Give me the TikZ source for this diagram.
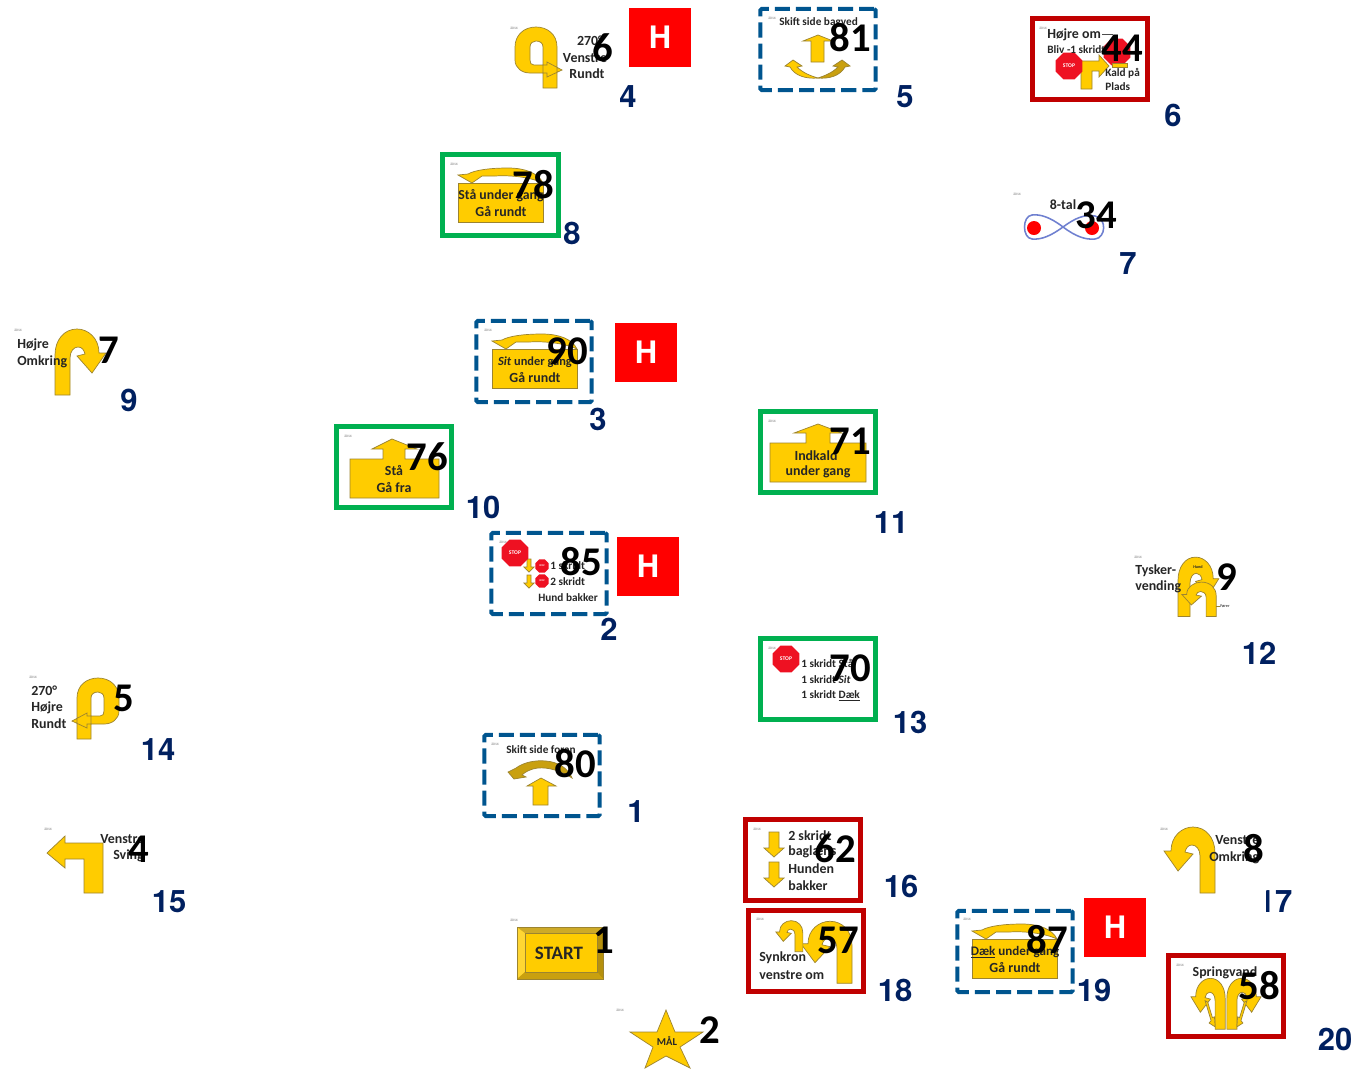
\documentclass[tikz,border=0pt]{standalone}
\usepackage{fontspec}
\setmainfont{Carlito}
\newfontfamily\routefont{TeX Gyre Heros}
\usetikzlibrary{shapes.geometric}
\definecolor{signyellow}{HTML}{FFCC00}
\definecolor{signedge}{HTML}{9C8430}
\definecolor{signdark}{HTML}{C9A00F}
\definecolor{routeblue}{HTML}{002060}
\definecolor{frameblue}{HTML}{00558F}
\definecolor{framegreen}{HTML}{00B050}
\definecolor{framered}{HTML}{C00000}
\definecolor{loopblue}{HTML}{6F80D0}
\definecolor{stopred}{HTML}{EE1122}
\tikzset{
  yarrow/.style={fill=signyellow,draw=signedge,line width=0.5pt},
  darrow/.style={fill=signdark,draw=signedge,line width=0.5pt},
  framebox/.style={minimum width=2.88cm,minimum height=2.03cm,inner sep=0pt},
  bluebox/.style={framebox,draw=frameblue,line width=2.9pt,rounded corners=1pt,dash pattern=on 10.7pt off 4.3pt},
  greenbox/.style={framebox,draw=framegreen,line width=3.5pt},
  redbox/.style={framebox,draw=framered,line width=3.5pt},
  hbox/.style={fill=red,text=white,font=\routefont\bfseries\fontsize{22}{22}\selectfont,minimum width=1.55cm,minimum height=1.48cm,inner sep=0pt},
  routeno/.style={text=routeblue,font=\routefont\bfseries\fontsize{22}{22}\selectfont,inner sep=0pt,yshift=-0.7pt},
  signno/.style={text=black,font=\bfseries\fontsize{29}{29}\selectfont,inner sep=0pt},
  bigtxt/.style={text=black!85,font=\bfseries\fontsize{9.9}{10}\selectfont,inner sep=0pt,yshift=-0.7pt},
  smalltxt/.style={text=black!85,font=\bfseries\fontsize{8}{9}\selectfont,inner sep=0pt,yshift=-0.7pt},
  yeartxt/.style={text=black!60,font=\fontsize{2.5}{3}\selectfont,inner sep=0pt},
  stopsign/.style={regular polygon,regular polygon sides=8,fill=stopred,text=white,font=\bfseries\fontsize{4}{4}\selectfont,inner sep=0pt,minimum size=.72cm},
  smallstop/.style={stopsign,minimum size=.36cm,font=\bfseries\fontsize{1.8}{2}\selectfont}
}
\begin{document}
\begin{tikzpicture}[x=0.025cm,y=-0.025cm]
     % Definitions
     \def\omkring{(55,395) -- (70,395) -- (70,358) .. controls (70,351) and (74,347) .. (78,347) .. controls (82,347) and (84,350) .. (85,354) -- (77,356) -- (92,373) -- (106,353) -- (99,353) .. controls (99,338) and (88,329) .. (77,329) .. controls (64,329) and (55,340) .. (55,355) -- cycle}
     \def\rundt{(543,88) -- (557,88) -- (557,47) .. controls (557,34) and (547,27) .. (536,27) .. controls (524,27) and (515,35) .. (515,47) -- (515,60) .. controls (515,68) and (522,73) .. (530,73) -- (547,73) -- (547,77) -- (562,70) -- (547,62) -- (547,65) -- (534,65) .. controls (531,65) and (530,63) .. (530,60) -- (530,47) .. controls (530,43) and (533,41) .. (536,41) .. controls (540,41) and (543,43) .. (543,47) -- cycle}
     \useasboundingbox (0,0) rectangle (1360,1068);
     \fill[white] (0,0) rectangle (1360,1068);
     % Turning arrows
     \draw[yarrow] \omkring;
     \begin{scope}[shift={(1270,498)},xscale=-1]
      \draw[yarrow] \omkring;
     \end{scope}
     \begin{scope}[shift={(907,612)},xscale=-1,yscale=0.94]
      \draw[yarrow] \omkring;
     \end{scope}
     \begin{scope}[shift={(832,766)},xscale=-0.53,yscale=0.47]
      \draw[yarrow] \omkring;
     \end{scope}
     \foreach \c/\s in {1262/-0.67,1190/0.67} {
      \begin{scope}[shift={(\c,725)},xscale=\s,yscale=0.77]
       \draw[yarrow] \omkring;
       \draw[yarrow] (85,358) -- (81,360) -- (74,380) -- (71,379) -- (70,392) -- (79,387) -- (76,384) -- cycle;
      \end{scope}
     };
     \begin{scope}[shift={(1134,261)},xscale=0.8,yscale=0.9]
      \draw[yarrow] \omkring;
     \end{scope}
     \begin{scope}[shift={(1253,411)},xscale=-0.67,yscale=0.52]
      \draw[yarrow] \omkring;
     \end{scope}
     \draw[yarrow] \rundt;
     \begin{scope}[shift={(634,651)},xscale=-1]
      \draw[yarrow] \rundt;
     \end{scope}
     % Straight arrows
     \draw[yarrow] (47,853) -- (65,836) -- (65,843) -- (103,843) -- (103,893) -- (84,893) -- (84,859) -- (65,859) -- (65,868) -- cycle;
     \draw[yarrow] (1081,89) -- (1081,61) -- (1099,61) -- (1099,55) -- (1109,66) -- (1099,77) -- (1099,71) -- (1092,71) -- (1092,89) -- cycle;
     \draw[yarrow] (811,62) -- (811,41) -- (803,41) -- (818,35) -- (833,41) -- (824,41) -- (824,62) -- cycle;
     \draw[yarrow] (533,805) -- (533,786) -- (527,786) -- (541,778) -- (556,786) -- (548,786) -- (548,805) -- cycle;
     \foreach \y in {832,862} {
      \draw[yarrow] (769,\y) -- (779,\y) -- (779,\y+16) -- (784,\y+16) -- (774,\y+25) -- (764,\y+16) -- (769,\y+16) -- cycle;
     };
     \foreach \y in {559,575} {
      \draw[yarrow] (527,\y) -- (531,\y) -- (531,\y+8) -- (534,\y+8) -- (529,\y+13) -- (524,\y+8) -- (527,\y+8) -- cycle;
     };
     % Crescents
     \draw[yarrow] (785,66) -- (793,60) -- (802,66) -- (797,67) .. controls (803,73) and (811,76) .. (818,78) .. controls (806,79) and (795,76) .. (790,67) -- cycle;
     \draw[darrow] (850,66) -- (842,60) -- (833,66) -- (838,67) .. controls (832,73) and (824,76) .. (818,78) .. controls (829,79) and (840,76) .. (845,67) -- cycle;
     \draw[darrow] (508,772) -- (516,768) .. controls (524,762) and (536,760) .. (546,761) .. controls (558,762) and (568,768) .. (572,778) .. controls (562,771) and (548,767) .. (538,768) .. controls (530,769) and (525,772) .. (522,775) -- (526,777) -- (514,779) -- cycle;
     % Boxes with an arrow over them
     \foreach \dx/\dy/\first/\fs in {0/0/{Stå under gang}/9.8,34/166/{\textit{Sit} under gang}/8.8,514/756/{\underline{Dæk} under gang}/9.3} {
      \begin{scope}[shift={(\dx,\dy)}]
       \draw[yarrow] (458,183) rectangle (543,222);
       \draw[yarrow] (458,175) -- (468,174) .. controls (475,170) and (490,168) .. (508,168) .. controls (525,168) and (538,173) .. (543,183) .. controls (530,177) and (510,175) .. (495,176) -- (482,176) -- (472,183) -- cycle;
       \node[bigtxt,font=\bfseries\fontsize{\fs}{10}\selectfont] (under\dx) at (501,195) {\first};
       \node[bigtxt] (rundt\dx) at (501,211) {Gå rundt};
      \end{scope}
     };
     \draw[yarrow] (350,459) -- (383,459) -- (383,449) -- (372,449) -- (392,439) -- (417,449) -- (405,449) -- (405,459) -- (439,459) -- (439,498) -- (350,498) -- cycle;
     \draw[yarrow] (770,443) -- (806,443) -- (806,433) -- (794,433) -- (818,424) -- (842,433) -- (830,433) -- (830,443) -- (866,443) -- (866,482) -- (770,482) -- cycle;
     % Start and finish
     \node[fill=signyellow,minimum width=2.15cm,minimum height=1.3cm,inner sep=0pt] (startbox) at (560,953) {};
     \fill[fill=signyellow!80!white] (517,927) -- (525,933) -- (525,972) -- (517,979) -- cycle;
     \fill[fill=signdark!90!white] (517,927) -- (603,927) -- (597,933) -- (525,933) -- cycle;
     \fill[fill=signdark!90!black] (603,927) -- (603,979) -- (597,972) -- (597,933) -- cycle;
     \fill[fill=signdark] (517,979) -- (603,979) -- (597,972) -- (525,972) -- cycle;
     \draw[signedge,line width=0.5pt] (517,927) rectangle (603,979);
     \draw[signedge,line width=0.5pt] (525,933) rectangle (597,972);
     \node[text=black!85,font=\bfseries\fontsize{13.5}{14}\selectfont,inner sep=0pt] (start) at (559,953) {START};
     \draw[yarrow] (666,1010) -- (675,1032) -- (703,1032) -- (680,1047) -- (690,1068) -- (666,1056) -- (645,1068) -- (653,1047) -- (630,1032) -- (657,1032) -- cycle;
     \node[text=black!85,font=\bfseries\fontsize{7.5}{8}\selectfont,inner sep=0pt] (maal) at (667,1041) {MÅL};
     % Figure of eight
     \fill[red] (1034,228) circle (7);
     \fill[red] (1092,228) circle (7);
     \draw[loopblue,line width=1.1pt] (1063,227) .. controls (1050,217) and (1040,214) .. (1032,215) .. controls (1022,216) and (1022,238) .. (1032,239) .. controls (1042,240) and (1052,235) .. (1063,227) .. controls (1075,218) and (1085,214) .. (1095,216) .. controls (1107,218) and (1106,238) .. (1095,239) .. controls (1085,240) and (1075,236) .. (1063,227);
     % Stop signs
     \node[stopsign] (stopa) at (1117,52) {};
     \draw[yarrow] (1112,63) rectangle (1127,67);
     \node[stopsign] (stopb) at (1069,66) {STOP};
     \node[stopsign] (stopc) at (515,553) {STOP};
     \node[stopsign] (stopd) at (786,659) {STOP};
     \node[smallstop] (stope) at (542,566) {STOP};
     \node[smallstop] (stopf) at (542,581) {STOP};
     % Sign texts
     \foreach \x/\y/\txt [count=\i] in {590/40/{270°},585/57/Venstre,587/73/Rundt,1063/204/8-tal,1225/972/Springvand,818/471/under gang,816/455/Indkald,394/470/Stå,394/487/Gå fra} {
      \node[bigtxt] (mid\i) at (\x,\y) {\txt};
     };
     \foreach \x/\y/\txt [count=\i] in {31/690/{270°},31/707/Højre,31/723/Rundt,17/344/Højre,17/361/Omkring,1135/570/Tysker-,1135/586/vending,100/838/Venstre,113/855/Sving,1215/839/Venstre,1209/857/Omkring,759/957/Synkron,759/974/venstre om,788/835/2 skridt,788/851/baglæns,788/868/Hunden,788/885/bakker,1047/34/Højre om} {
      \node[bigtxt,anchor=west] (left\i) at (\x,\y) {\txt};
     };
     \foreach \x/\y/\txt [count=\i] in {779/22/Skift side bagved,506/749/Skift side foran,1047/49/Bliv -1 skridt,1105/72/Kald på,1105/86/Plads,550/565/1 skridt,550/581/2 skridt,538/597/Hund bakker,801/662/1 skridt Stå,801/679/1 skridt \textit{Sit},801/695/1 skridt \underline{Dæk}} {
      \node[smalltxt,anchor=west] (small\i) at (\x,\y) {\txt};
     };
     \node[text=black!85,font=\bfseries\fontsize{3}{3}\selectfont,inner sep=0pt] (hund) at (1198,567) {Hund};
     \node[text=black!70,font=\bfseries\fontsize{3}{3}\selectfont,inner sep=0pt,anchor=west] (farer) at (1220,606) {Fører};
     \draw[signedge,line width=0.3pt] (1216,606) -- (farer.west);
     \draw[black!70,line width=0.5pt] (1102,34) -- (1113,34);
     % Year marks
     \foreach \x/\y [count=\i] in {514/28,772/18,1043/28,454/164,488/330,348/436,1017/194,18/330,503/542,772/421,1138/557,772/648,33/677,495/744,48/829,757/829,1164/829,514/920,760/919,967/919,1180/965,620/1010} {
      \node[yeartxt] (year\i) at (\x,\y) {2014};
     };
     % Frames
     \foreach \x/\y/\nam in {542/775.5/a,818/49.5/b,534/361.5/c,549/573.5/d,1015/951.5/e} {
      \node[bluebox] (blue\nam) at (\x,\y) {};
     };
     \foreach \x/\y/\nam in {500.5/195/a,394/467/b,818/452/c,818/679/d} {
      \node[greenbox] (green\nam) at (\x,\y) {};
     };
     \foreach \x/\y/\nam in {1090/59/a,803/860/b,806/951/c,1226/996/d} {
      \node[redbox] (red\nam) at (\x,\y) {};
     };
     % Sign numbers
     \foreach \x/\y/\nr in {603/48/6,850/38/81,1122/48/44,533/185/78,1096/215/34,109/350/7,567/351/90,427/457/76,850/441/71,1227/577/9,581/562/85,124/698/5,850/668/70,575/764/80,139/849/4,835/849/62,1254/849/8,604/940/1,838/940/57,1047/940/87,1259/986/58,710/1030/2} {
      \node[signno] (sign\nr) at (\x,\y) {\nr};
     };
     % H boxes
     \foreach \x/\y/\nam in {660/37.5/a,646/352.5/b,648/566.5/c,1115/927.5/d} {
      \node[hbox] (hold\nam) at (\x,\y) {H};
     };
     % Route numbers
     \foreach \x/\y/\nr in {636/811/1,609/628/2,598/418/3,628/96/4,905/96/5,1173/114/6,1128/263/7,572/232/8,129/399/9,483/506/10,891/522/11,1259/652/12,910/721/13,158/749/14,169/901/15,901/885/16,1275/901/17,895/989/18,1094/989/19,1335/1038/20} {
      \node[routeno] (route\nr) at (\x,\y) {\nr};
     };
     \fill[white] (1255,885) rectangle (1265.5,916);
    \end{tikzpicture}
\end{document}
